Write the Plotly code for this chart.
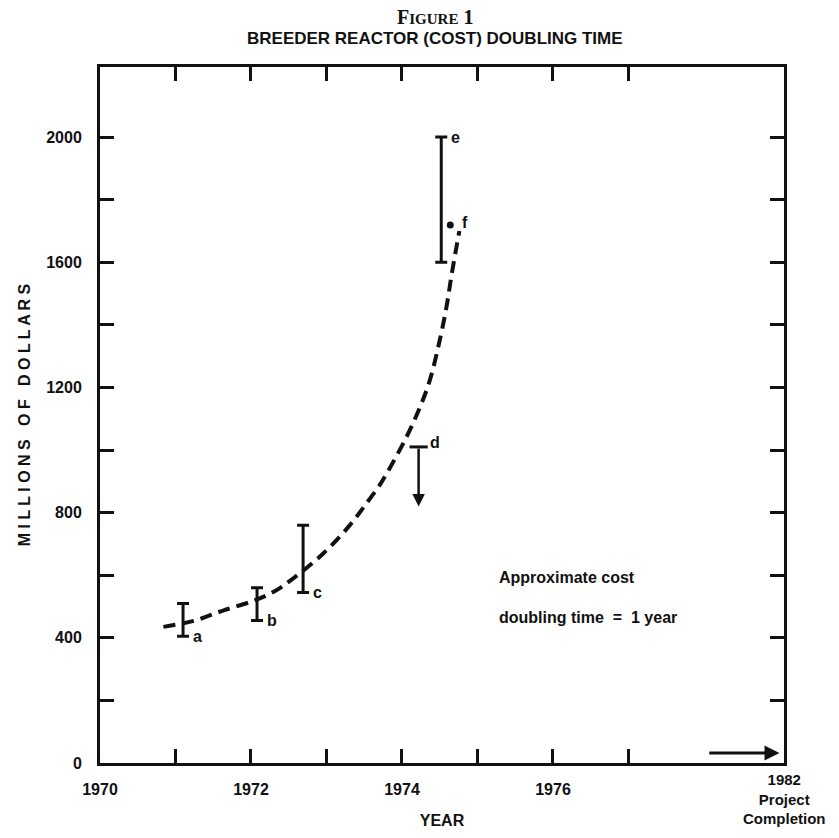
import plotly.graph_objects as go

# ---- data ----
bar_labels = ["a", "b", "c", "e"]
bar_years = [1971.10, 1972.08, 1972.69, 1974.52]
bar_low = [405, 455, 545, 1600]
bar_high = [510, 560, 760, 2000]

d_year = 1974.22
d_top = 1010
d_arrow_end = 820

f_year = 1974.64
f_value = 1719

curve_years = [1970.84, 1971.24, 1971.63, 1972.03, 1972.30, 1972.56, 1972.96,
               1973.31, 1973.53, 1973.71, 1973.80, 1974.06, 1974.24, 1974.37,
               1974.50, 1974.59, 1974.66, 1974.76]
curve_values = [435, 454, 487, 518, 547, 590, 670, 760, 830, 890, 926, 1042,
                1138, 1224, 1351, 1458, 1564, 1700]

x_tickvals = [1970, 1971, 1972, 1973, 1974, 1975, 1976, 1977]
x_ticktext = ["1970", "", "1972", "", "1974", "", "1976", ""]
y_tickvals = list(range(0, 2001, 200))
y_ticktext = [str(v) if v % 400 == 0 else "" for v in y_tickvals]

completion_arrow_start = 1978.05
completion_arrow_end = 1979.0
completion_arrow_y = 32

FONT = "Liberation Sans, Arial, sans-serif"
BLACK = "#111111"

fig = go.Figure()

# dashed trend curve
fig.add_trace(go.Scatter(
    x=curve_years, y=curve_values, mode="lines",
    line=dict(color=BLACK, width=4, dash="12px,7px", shape="spline", smoothing=1.0),
    showlegend=False, hoverinfo="skip"))

# range bars a, b, c, e
mids = [(lo + hi) / 2 for lo, hi in zip(bar_low, bar_high)]
fig.add_trace(go.Scatter(
    x=bar_years, y=mids, mode="markers",
    marker=dict(size=1, color="rgba(0,0,0,0)"),
    error_y=dict(type="data", symmetric=False,
                 array=[hi - m for hi, m in zip(bar_high, mids)],
                 arrayminus=[m - lo for lo, m in zip(bar_low, mids)],
                 color=BLACK, thickness=3, width=6),
    showlegend=False, hoverinfo="skip"))

# d cap
fig.add_trace(go.Scatter(
    x=[d_year], y=[d_top], mode="markers",
    marker=dict(symbol="line-ew", size=13, line=dict(color=BLACK, width=3)),
    showlegend=False, hoverinfo="skip"))

# f dot
fig.add_trace(go.Scatter(
    x=[f_year], y=[f_value], mode="markers",
    marker=dict(size=7, color=BLACK),
    showlegend=False, hoverinfo="skip"))

LETTER_FONT = dict(family=FONT, size=16, color=BLACK)
annotations = []
# bar letters
for lab, xv, lo, hi in zip(bar_labels, bar_years, bar_low, bar_high):
    yv = hi if lab == "e" else lo
    annotations.append(dict(x=xv, y=yv, text="<b>%s</b>" % lab, showarrow=False,
                            xanchor="left", xshift=8, font=LETTER_FONT,
                            xref="x", yref="y"))
annotations.append(dict(x=d_year, y=d_top, text="<b>d</b>", showarrow=False, xanchor="left",
                        xshift=9, yshift=4, font=LETTER_FONT))
annotations.append(dict(x=f_year, y=f_value, text="<b>f</b>", showarrow=False, xanchor="left",
                        xshift=10, yshift=3, font=LETTER_FONT))
# d arrow
annotations.append(dict(x=d_year, y=d_arrow_end, ax=d_year, ay=d_top, axref="x", ayref="y",
                        xref="x", yref="y", showarrow=True, arrowhead=2, arrowsize=1,
                        arrowwidth=2.5, arrowcolor=BLACK, text=""))
# completion arrow
annotations.append(dict(x=completion_arrow_end, y=completion_arrow_y,
                        ax=completion_arrow_start, ay=completion_arrow_y,
                        axref="x", ayref="y", xref="x", yref="y", showarrow=True,
                        arrowhead=2, arrowsize=1, arrowwidth=3, arrowcolor=BLACK, text=""))
# explanatory text
annotations.append(dict(x=1975.26, y=592, text="<b>Approximate cost</b>", showarrow=False,
                        xanchor="left", font=dict(family=FONT, size=16, color=BLACK)))
annotations.append(dict(x=1975.26, y=464, text="<b>doubling time  =  1 year</b>", showarrow=False,
                        xanchor="left", font=dict(family=FONT, size=16, color=BLACK)))
# 1982 project completion
annotations.append(dict(x=1, y=0, xref="paper", yref="paper", yanchor="top", xanchor="center",
                        yshift=-6, showarrow=False, align="center",
                        text="<b>1982<br>Project<br>Completion</b>",
                        font=dict(family=FONT, size=15, color=BLACK)))
# figure headings
annotations.append(dict(x=0.49, y=1, xref="paper", yref="paper", yanchor="bottom",
                        yshift=37, showarrow=False,
                        text="<b>F<span style='font-size:15px'>IGURE</span> 1</b>",
                        font=dict(family="Liberation Serif, Times New Roman, serif", size=20, color=BLACK)))
annotations.append(dict(x=0.49, y=1, xref="paper", yref="paper", yanchor="bottom",
                        yshift=17, showarrow=False,
                        text="<b>BREEDER REACTOR (COST) DOUBLING TIME</b>",
                        font=dict(family=FONT, size=17, color=BLACK)))

axis_common = dict(showline=True, linewidth=3, linecolor=BLACK, mirror="ticks",
                   ticks="inside", ticklen=14, tickwidth=3, tickcolor=BLACK,
                   showgrid=False, zeroline=False,
                   tickfont=dict(family=FONT, size=16, color=BLACK))

fig.update_layout(
    width=839, height=838,
    margin=dict(l=100, r=55, t=67, b=75, pad=0),
    paper_bgcolor="white", plot_bgcolor="white",
    xaxis=dict(range=[1970, 1979.06], tickmode="array", tickvals=x_tickvals,
               ticktext=["<b>%s</b>" % t if t else "" for t in x_ticktext],
               ticklabelstandoff=10,
               title=dict(text="<b>YEAR</b>", font=dict(family=FONT, size=16, color=BLACK),
                          standoff=18),
               **axis_common),
    yaxis=dict(range=[0, 2224], tickmode="array", tickvals=y_tickvals,
               ticktext=["<b>%s</b>" % t if t else "" for t in y_ticktext],
               ticklabelstandoff=12,
               title=dict(text="<b>M I L L I O N S   O F   D O L L A R S</b>",
                          font=dict(family=FONT, size=16, color=BLACK), standoff=12),
               **axis_common),
    annotations=annotations,
)

fig.write_html("out.html")
